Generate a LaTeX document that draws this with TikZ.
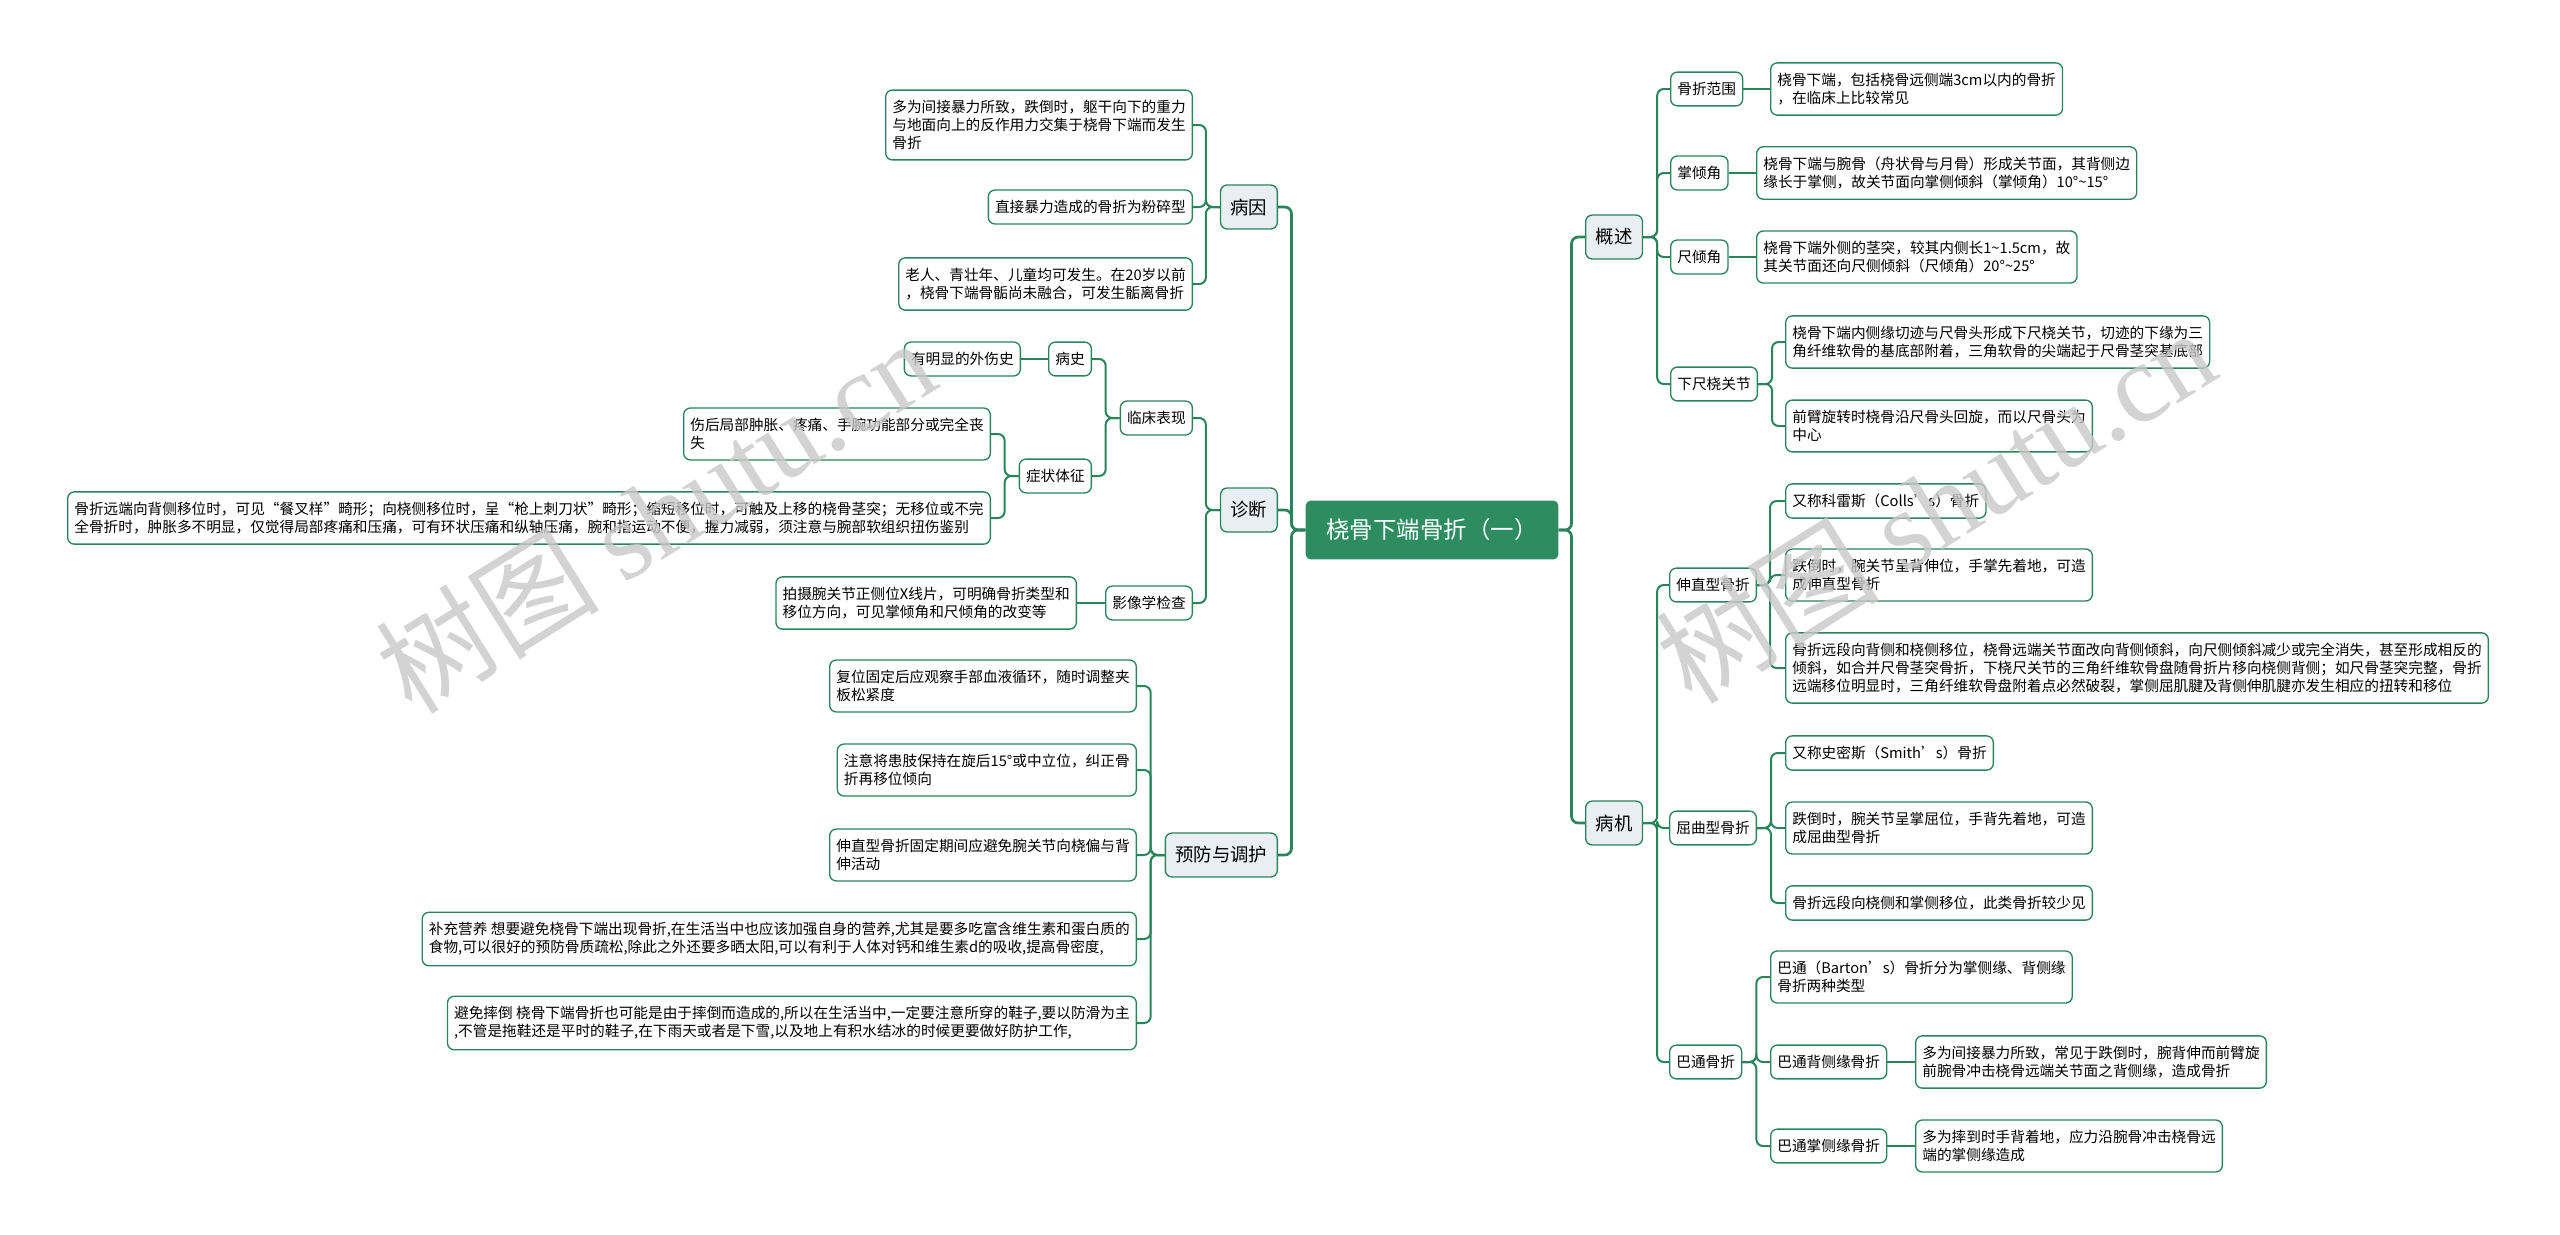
\documentclass[tikz,border=0pt]{standalone}
\usepackage{fontspec}
\setmainfont{Noto Sans CJK SC}
\newfontfamily\marklatin{Liberation Serif}
\usepackage{xcolor}

\definecolor{mapgreen}{RGB}{42,132,90}
\definecolor{rootgreen}{RGB}{46,141,96}
\definecolor{topicgray}{RGB}{233,238,242}
\definecolor{markgray}{RGB}{200,200,200}

\tikzset{
  rootbox/.style={fill=rootgreen, text=white, rounded corners=3.5pt, inner xsep=15.5pt, minimum height=44pt, font=\fontsize{17.6}{20}\selectfont},
  topicbox/.style={draw=mapgreen, fill=topicgray, line width=1pt, rounded corners=5pt, inner xsep=7.5pt, minimum height=33pt, font=\fontsize{13.8}{16}\selectfont},
  subbox/.style={draw=mapgreen, fill=white, line width=1pt, rounded corners=5pt, inner xsep=5pt, inner ysep=7.6pt, font=\fontsize{11}{13.5}\selectfont},
  leafbox/.style={subbox, align=left},
  trunkline/.style={draw=mapgreen, line width=2pt, rounded corners=5pt},
  linkline/.style={draw=mapgreen, line width=1.5pt, rounded corners=5pt},
  watermark/.style={text=markgray, text opacity=0.8, rotate=32, font=\fontsize{84}{90}\selectfont}
}

\begin{document}
\begin{tikzpicture}[x=0.75pt, y=-0.75pt]
\useasboundingbox (0,0) rectangle (2560,1235);

% centre topic
\node[rootbox] (root) at (1432,530) {桡骨下端骨折（一）};

% left: 病因
\node[topicbox, anchor=east] (bingyin) at (1278,207) {病因};
\node[leafbox, anchor=east] (by1) at (1193,125) {多为间接暴力所致，跌倒时，躯干向下的重力\\与地面向上的反作用力交集于桡骨下端而发生\\骨折};
\node[leafbox, anchor=east] (by2) at (1193,207) {直接暴力造成的骨折为粉碎型};
\node[leafbox, anchor=east] (by3) at (1193,284) {老人、青壮年、儿童均可发生。在20岁以前\\，桡骨下端骨骺尚未融合，可发生骺离骨折};

% left: 诊断
\node[topicbox, anchor=east] (zhenduan) at (1278,510) {诊断};
\node[subbox, anchor=east] (linchuang) at (1193,418) {临床表现};
\node[subbox, anchor=east] (bingshi) at (1092,359) {病史};
\node[leafbox, anchor=east] (bs1) at (1021,359) {有明显的外伤史};
\node[subbox, anchor=east] (zhengzhuang) at (1092,476) {症状体征};
\node[leafbox, anchor=east] (zz1) at (991,434) {伤后局部肿胀、疼痛、手腕功能部分或完全丧\\失};
\node[leafbox, anchor=east] (zz2) at (991,518) {骨折远端向背侧移位时，可见“餐叉样”畸形；向桡侧移位时，呈“枪上刺刀状”畸形；缩短移位时，可触及上移的桡骨茎突；无移位或不完\\全骨折时，肿胀多不明显，仅觉得局部疼痛和压痛，可有环状压痛和纵轴压痛，腕和指运动不便，握力减弱，须注意与腕部软组织扭伤鉴别};
\node[subbox, anchor=east] (yingxiang) at (1193,603) {影像学检查};
\node[leafbox, anchor=east] (yx1) at (1077,603) {拍摄腕关节正侧位X线片，可明确骨折类型和\\移位方向，可见掌倾角和尺倾角的改变等};

% left: 预防与调护
\node[topicbox, anchor=east] (yufang) at (1278,855) {预防与调护};
\node[leafbox, anchor=east] (yf1) at (1137,686) {复位固定后应观察手部血液循环，随时调整夹\\板松紧度};
\node[leafbox, anchor=east] (yf2) at (1137,770) {注意将患肢保持在旋后15°或中立位，纠正骨\\折再移位倾向};
\node[leafbox, anchor=east] (yf3) at (1137,855) {伸直型骨折固定期间应避免腕关节向桡偏与背\\伸活动};
\node[leafbox, anchor=east] (yf4) at (1137,939) {补充营养 想要避免桡骨下端出现骨折,在生活当中也应该加强自身的营养,尤其是要多吃富含维生素和蛋白质的\\食物,可以很好的预防骨质疏松,除此之外还要多晒太阳,可以有利于人体对钙和维生素d的吸收,提高骨密度,};
\node[leafbox, anchor=east] (yf5) at (1137,1023) {避免摔倒 桡骨下端骨折也可能是由于摔倒而造成的,所以在生活当中,一定要注意所穿的鞋子,要以防滑为主\\,不管是拖鞋还是平时的鞋子,在下雨天或者是下雪,以及地上有积水结冰的时候更要做好防护工作,};

% right: 概述
\node[topicbox, anchor=west] (gaishu) at (1585,237) {概述};
\node[subbox, anchor=west] (gs1) at (1670,89) {骨折范围};
\node[leafbox, anchor=west] (gs1a) at (1770,89) {桡骨下端，包括桡骨远侧端3cm以内的骨折\\，在临床上比较常见};
\node[subbox, anchor=west] (gs2) at (1670,173) {掌倾角};
\node[leafbox, anchor=west] (gs2a) at (1756,173) {桡骨下端与腕骨（舟状骨与月骨）形成关节面，其背侧边\\缘长于掌侧，故关节面向掌侧倾斜（掌倾角）10°\textasciitilde15°};
\node[subbox, anchor=west] (gs3) at (1670,257) {尺倾角};
\node[leafbox, anchor=west] (gs3a) at (1756,257) {桡骨下端外侧的茎突，较其内侧长1\textasciitilde1.5cm，故\\其关节面还向尺侧倾斜（尺倾角）20°\textasciitilde25°};
\node[subbox, anchor=west] (gs4) at (1670,384) {下尺桡关节};
\node[leafbox, anchor=west] (gs4a) at (1785,342) {桡骨下端内侧缘切迹与尺骨头形成下尺桡关节，切迹的下缘为三\\角纤维软骨的基底部附着，三角软骨的尖端起于尺骨茎突基底部};
\node[leafbox, anchor=west] (gs4b) at (1785,426) {前臂旋转时桡骨沿尺骨头回旋，而以尺骨头为\\中心};

% right: 病机
\node[topicbox, anchor=west] (bingji) at (1585,823) {病机};
\node[subbox, anchor=west] (bj1) at (1669,585) {伸直型骨折};
\node[leafbox, anchor=west] (bj1a) at (1785,501) {又称科雷斯（Colls’s）骨折};
\node[leafbox, anchor=west] (bj1b) at (1785,575) {跌倒时，腕关节呈背伸位，手掌先着地，可造\\成伸直型骨折};
\node[leafbox, anchor=west] (bj1c) at (1785,668) {骨折远段向背侧和桡侧移位，桡骨远端关节面改向背侧倾斜，向尺侧倾斜减少或完全消失，甚至形成相反的\\倾斜，如合并尺骨茎突骨折，下桡尺关节的三角纤维软骨盘随骨折片移向桡侧背侧；如尺骨茎突完整，骨折\\远端移位明显时，三角纤维软骨盘附着点必然破裂，掌侧屈肌腱及背侧伸肌腱亦发生相应的扭转和移位};
\node[subbox, anchor=west] (bj2) at (1669,828) {屈曲型骨折};
\node[leafbox, anchor=west] (bj2a) at (1785,753) {又称史密斯（Smith’s）骨折};
\node[leafbox, anchor=west] (bj2b) at (1785,828) {跌倒时，腕关节呈掌屈位，手背先着地，可造\\成屈曲型骨折};
\node[leafbox, anchor=west] (bj2c) at (1785,903) {骨折远段向桡侧和掌侧移位，此类骨折较少见};
\node[subbox, anchor=west] (bj3) at (1669,1062) {巴通骨折};
\node[leafbox, anchor=west] (bj3a) at (1770,977) {巴通（Barton’s）骨折分为掌侧缘、背侧缘\\骨折两种类型};
\node[subbox, anchor=west] (bj3b) at (1770,1062) {巴通背侧缘骨折};
\node[leafbox, anchor=west] (bj3b1) at (1915,1062) {多为间接暴力所致，常见于跌倒时，腕背伸而前臂旋\\前腕骨冲击桡骨远端关节面之背侧缘，造成骨折};
\node[subbox, anchor=west] (bj3c) at (1770,1146) {巴通掌侧缘骨折};
\node[leafbox, anchor=west] (bj3c1) at (1915,1146) {多为摔到时手背着地，应力沿腕骨冲击桡骨远\\端的掌侧缘造成};

% trunk lines
\foreach \t in {bingyin,zhenduan,yufang}
  \draw[trunkline] (root.west) -- ++(-14,0) |- (\t.east);
\foreach \t in {gaishu,bingji}
  \draw[trunkline] (root.east) -- ++(13,0) |- (\t.west);

% left branches
\foreach \c in {by1,by2,by3}
  \draw[linkline] (bingyin.west) -- ++(-14,0) |- (\c.east);
\foreach \c in {linchuang,yingxiang}
  \draw[linkline] (zhenduan.west) -- ++(-14,0) |- (\c.east);
\foreach \c in {bingshi,zhengzhuang}
  \draw[linkline] (linchuang.west) -- ++(-14,0) |- (\c.east);
\foreach \c in {zz1,zz2}
  \draw[linkline] (zhengzhuang.west) -- ++(-14,0) |- (\c.east);
\draw[linkline] (bingshi.west) -- (bs1.east);
\draw[linkline] (yingxiang.west) -- (yx1.east);
\foreach \c in {yf1,yf2,yf3,yf4,yf5}
  \draw[linkline] (yufang.west) -- ++(-14,0) |- (\c.east);

% right branches
\foreach \c in {gs1,gs2,gs3,gs4}
  \draw[linkline] (gaishu.east) -- ++(14,0) |- (\c.west);
\draw[linkline] (gs1.east) -- (gs1a.west);
\draw[linkline] (gs2.east) -- (gs2a.west);
\draw[linkline] (gs3.east) -- (gs3a.west);
\foreach \c in {gs4a,gs4b}
  \draw[linkline] (gs4.east) -- ++(14,0) |- (\c.west);
\foreach \c in {bj1,bj2,bj3}
  \draw[linkline] (bingji.east) -- ++(14,0) |- (\c.west);
\foreach \c in {bj1a,bj1b,bj1c}
  \draw[linkline] (bj1.east) -- ++(13,0) |- (\c.west);
\foreach \c in {bj2a,bj2b,bj2c}
  \draw[linkline] (bj2.east) -- ++(14,0) |- (\c.west);
\foreach \c in {bj3a,bj3b,bj3c}
  \draw[linkline] (bj3.east) -- ++(14,0) |- (\c.west);
\draw[linkline] (bj3b.east) -- (bj3b1.west);
\draw[linkline] (bj3c.east) -- (bj3c1.west);

% watermarks
\node[watermark] (mark1) at (655,515) {树图 {\marklatin shutu.cn}};
\node[watermark] (mark2) at (1935,505) {树图 {\marklatin shutu.cn}};
\end{tikzpicture}
\end{document}
